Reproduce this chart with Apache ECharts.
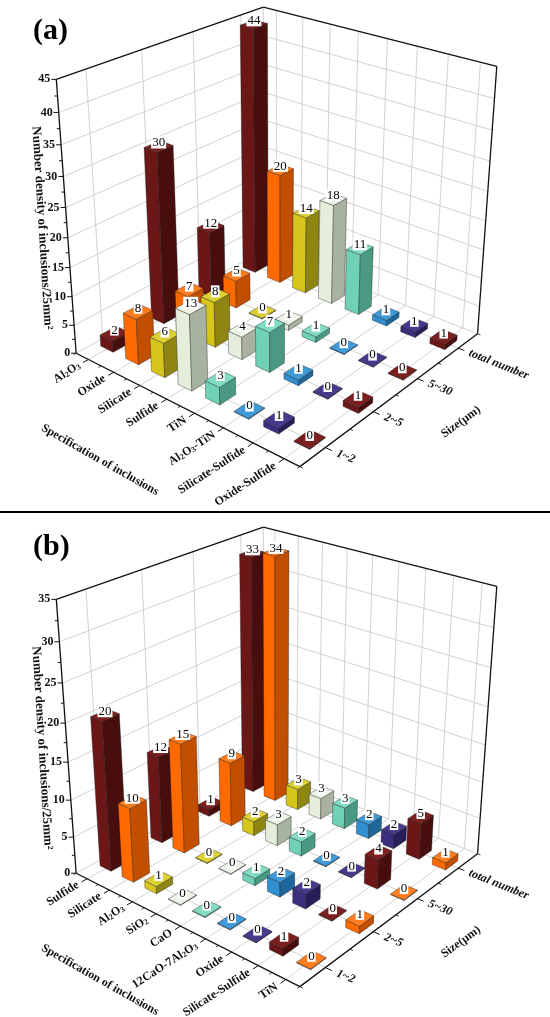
<!DOCTYPE html>
<html>
<head>
<meta charset="utf-8">
<script src="https://cdn.jsdelivr.net/npm/echarts@6/dist/echarts.min.js"></script>
<style>
  html, body { margin: 0; padding: 0; background: #fff; }
  #chart { width: 550px; height: 1017px; }
</style>
</head>
<body>
<div id="chart"></div>
<script>
// ---- data: panel (a)
const specA = ['Al2O3', 'Oxide', 'Silicate', 'Sulfide', 'TiN', 'Al2O3-TiN', 'Silicate-Sulfide', 'Oxide-Sulfide'];
const a_1_2   = [2, 8, 6, 13, 3, 0, 1, 0];
const a_2_5   = [30, 7, 8, 4, 7, 1, 0, 1];
const a_5_30  = [12, 5, 0, 1, 1, 0, 0, 0];
const a_total = [44, 20, 14, 18, 11, 1, 1, 1];
const ticksA  = [0, 5, 10, 15, 20, 25, 30, 35, 40, 45];

// ---- data: panel (b)
const specB = ['Sulfide', 'Silicate', 'Al2O3', 'SiO2', 'CaO', '12CaO-7Al2O3', 'Oxide', 'Silicate-Sulfide', 'TiN'];
const b_1_2   = [20, 10, 1, 0, 0, 0, 0, 1, 0];
const b_2_5   = [12, 15, 0, 0, 1, 2, 2, 0, 1];
const b_5_30  = [1, 9, 2, 3, 2, 0, 0, 4, 0];
const b_total = [33, 34, 3, 3, 3, 2, 2, 5, 1];
const ticksB  = [0, 5, 10, 15, 20, 25, 30, 35];

const sizes = ['1~2', '2~5', '5~30', 'total number'];

// ---- colours (front face, side face, top face)
const darkred = ['#6c1717', '#480e0e', '#7b1f1f'];
const orange  = ['#ff6a00', '#c24f00', '#ff7d1e'];
const yellow  = ['#d6c61c', '#8f8512', '#ddd032'];
const pale    = ['#e4eedb', '#a8b2a0', '#eef5e8'];
const teal    = ['#6fd2b6', '#4a9a83', '#82dcc3'];
const blue    = ['#2f8fd0', '#1f679a', '#3f9bd8'];
const navy    = ['#3c2e7e', '#271d58', '#48398c'];
const paletteA = [darkred, orange, yellow, pale, teal, blue, navy, darkred];
const paletteB = [darkred, orange, yellow, pale, teal, blue, navy, darkred, orange];

// ---- 3d box layout: normalized box corners -> panel pixels (same for both panels)
const boxCorners = [
  [[0, 0, 0], [76, 352]], [[1, 0, 0], [300, 466]], [[1, 1, 0], [478, 334]],
  [[0, 0, 1], [56, 79]], [[0, 1, 1], [263, 7]], [[1, 1, 1], [499, 67]]
];
const edgeTickY  = [352, 326, 297, 268, 238, 207, 177, 146, 113, 79];   // front-left edge, 9 steps
const rightTopX  = [277, 303, 330, 358, 387, 416, 447, 480];             // right wall grid, 8 cols
const leftTopX   = [87, 142, 194];                                        // left wall grid
const BAR_W = 0.5, BAR_D = 0.31;
const FONT = '"Liberation Serif", "Times New Roman", serif';

function solveCamera() {
  const refs = boxCorners.slice();
  edgeTickY.forEach((y, k) => { if (k > 0 && k < 9) refs.push([[0, 0, k / 9], [76 - 20 * (352 - y) / 273, y]]); });
  rightTopX.forEach((x, i) => refs.push([[(i + 0.5) / 8, 1, 1], [x, 7 + (x - 263) * 60 / 236]]));
  leftTopX.forEach((x, j) => refs.push([[0, (j + 0.5) / 4, 1], [x, 79 - (x - 56) * 72 / 207]]));
  const A = [], b = [];
  refs.forEach(([[x, y, z], [u, v]]) => {
    u /= 100; v /= 100;
    A.push([x, y, z, 1, 0, 0, 0, 0, -u * x, -u * y, -u * z]); b.push(u);
    A.push([0, 0, 0, 0, x, y, z, 1, -v * x, -v * y, -v * z]); b.push(v);
  });
  const n = 11, M = [];
  for (let i = 0; i < n; i++) {
    const row = new Array(n + 1).fill(0);
    for (let k = 0; k < A.length; k++) {
      for (let j = 0; j < n; j++) row[j] += A[k][i] * A[k][j];
      row[n] += A[k][i] * b[k];
    }
    M.push(row);
  }
  for (let c = 0; c < n; c++) {
    let p = c;
    for (let r = c + 1; r < n; r++) if (Math.abs(M[r][c]) > Math.abs(M[p][c])) p = r;
    [M[c], M[p]] = [M[p], M[c]];
    for (let r = 0; r < n; r++) {
      if (r === c) continue;
      const f = M[r][c] / M[c][c];
      for (let k = c; k <= n; k++) M[r][k] -= f * M[c][k];
    }
  }
  return M.map((row, i) => row[n] / row[i]);
}
const cam = solveCamera();
function project(x, y, z) {
  const w = cam[8] * x + cam[9] * y + cam[10] * z + 1;
  return [(cam[0] * x + cam[1] * y + cam[2] * z + cam[3]) / w * 100,
          (cam[4] * x + cam[5] * y + cam[6] * z + cam[7]) / w * 100, w];
}

function richName(s) { return s.replace(/([A-Za-z])(\d+)/g, '$1{s|$2}'); }
const subRich = { s: { fontSize: 8, fontWeight: 'bold', fontFamily: FONT, verticalAlign: 'bottom', lineHeight: 9 } };

function frameItem(panel) {
  return function (params, api) {
    const n = panel.cats.length, zmax = panel.ticks[panel.ticks.length - 1];
    const P = (x, y, z) => { const p = project(x, y, z); return api.coord([p[0], p[1]]); };
    const out = [];
    const seg = (a, b, stroke, w) => out.push({ type: 'line', silent: true,
      shape: { x1: a[0], y1: a[1], x2: b[0], y2: b[1] }, style: { stroke, lineWidth: w } });
    const text = (p, txt, rot, st) => out.push({ type: 'text', x: p[0], y: p[1], rotation: rot, silent: true,
      style: Object.assign({ text: txt, fontFamily: FONT, fontWeight: 'bold', fontSize: 12, fill: '#111' }, st) });
    const grey = '#c6c6c6';

    // grid lines on walls and floor
    for (let i = 0; i < n; i++) {
      const x = (i + 0.5) / n;
      seg(P(x, 1, 0), P(x, 1, 1), grey, 0.8);
      seg(P(x, 0, 0), P(x, 1, 0), grey, 0.8);
    }
    for (let j = 0; j < 4; j++) {
      const y = (j + 0.5) / 4;
      seg(P(0, y, 0), P(0, y, 1), grey, 0.8);
      seg(P(0, y, 0), P(1, y, 0), grey, 0.8);
    }
    panel.ticks.forEach(t => {
      if (t === 0 || t === zmax) return;
      const z = t / zmax;
      seg(P(0, 0, z), P(0, 1, z), grey, 0.8);
      seg(P(0, 1, z), P(1, 1, z), grey, 0.8);
    });
    seg(P(0, 1, 0), P(0, 1, 1), grey, 0.8);
    seg(P(0, 0, 0), P(0, 1, 0), grey, 0.8);
    seg(P(0, 1, 0), P(1, 1, 0), grey, 0.8);

    // black frame
    const k = '#111';
    seg(P(0, 0, 0), P(0, 0, 1), k, 1.3);
    seg(P(0, 0, 1), P(0, 1, 1), k, 1.3);
    seg(P(0, 1, 1), P(1, 1, 1), k, 1.3);
    seg(P(1, 1, 1), P(1, 1, 0), k, 1.3);
    seg(P(0, 0, 0), P(1, 0, 0), k, 1.3);
    seg(P(1, 0, 0), P(1, 1, 0), k, 1.3);

    // value axis ticks + labels
    panel.ticks.forEach((t, idx) => {
      const p = P(0, 0, t / zmax);
      seg(p, [p[0] - 5, p[1]], k, 1);
      if (idx < panel.ticks.length - 1) {
        const m = P(0, 0, (t + (panel.ticks[1] - panel.ticks[0]) / 2) / zmax);
        seg(m, [m[0] - 3, m[1]], k, 1);
      }
      text([p[0] - 6, p[1]], String(t), 0, { align: 'right', verticalAlign: 'middle' });
    });

    // category axis
    for (let i = 0; i <= n; i++) {
      const x = i / n;
      seg(P(x, 0, 0), P(x, -0.012, 0), k, 0.8);
    }
    panel.cats.forEach((c, i) => {
      const x = (i + 0.5) / n;
      seg(P(x, 0, 0), P(x, -0.025, 0), k, 1);
      text(P(x, -0.042, 0), richName(c), 33 * Math.PI / 180,
        { align: 'right', verticalAlign: 'middle', rich: subRich });
    });

    // size axis
    for (let j = 0; j <= 4; j++) seg(P(1, j / 4, 0), P(1.012, j / 4, 0), k, 0.8);
    sizes.forEach((s, j) => {
      const y = (j + 0.5) / 4;
      seg(P(1, y, 0), P(1.025, y, 0), k, 1);
      text(P(1.045, y, 0), s, -22 * Math.PI / 180,
        { align: 'left', verticalAlign: 'middle', fontStyle: 'italic' });
    });

    // axis titles
    text(api.coord([42, 228]), 'Number density of inclusions/25mm²', -86.5 * Math.PI / 180,
      { align: 'center', verticalAlign: 'middle', fontSize: 13 });
    text(api.coord([100, 460]), 'Specification of inclusions', -29.5 * Math.PI / 180,
      { align: 'center', verticalAlign: 'middle', fontSize: 12 });
    text(api.coord([461, 422]), 'Size(μm)', 36 * Math.PI / 180,
      { align: 'center', verticalAlign: 'middle', fontSize: 12 });

    return { type: 'group', children: out };
  };
}

function barItem(panel) {
  return function (params, api) {
    const i = api.value(0), j = api.value(1), v = api.value(2);
    const n = panel.cats.length, zmax = panel.ticks[panel.ticks.length - 1];
    const P = (x, y, z) => { const p = project(x, y, z); return api.coord([p[0], p[1]]); };
    const cx = (i + 0.5) / n, cy = (j + 0.5) / 4;
    const hx = BAR_W / 2 / n, hy = BAR_D / 2 / 4;
    const zt = Math.max(v / zmax, 0.003);
    const x0 = cx - hx, x1 = cx + hx, y0 = cy - hy, y1 = cy + hy;
    const col = panel.palette[i];
    const poly = (pts, fill) => ({ type: 'polygon', silent: true, shape: { points: pts },
      style: { fill, stroke: 'rgba(25,25,25,0.75)', lineWidth: 0.5, lineJoin: 'round' } });
    const children = [
      poly([P(x0, y0, 0), P(x1, y0, 0), P(x1, y0, zt), P(x0, y0, zt)], col[0]),
      poly([P(x1, y0, 0), P(x1, y1, 0), P(x1, y1, zt), P(x1, y0, zt)], col[1]),
      poly([P(x0, y0, zt), P(x1, y0, zt), P(x1, y1, zt), P(x0, y1, zt)], col[2])
    ];
    const tc = P(cx, cy, zt);
    children.push({ type: 'text', x: tc[0], y: tc[1] + 2, silent: true,
      style: { text: String(v), fontFamily: FONT, fontSize: 13, fill: '#000',
        align: 'center', verticalAlign: 'bottom', backgroundColor: '#fff',
        padding: [1, 1, 0, 1], lineHeight: 11 } });
    return { type: 'group', children };
  };
}

function barData(panel) {
  const items = [];
  panel.rows.forEach((row, j) => row.forEach((v, i) => items.push([i, j, v])));
  const n = panel.cats.length;
  items.sort((a, b) => project((b[0] + 0.5) / n, (b[1] + 0.5) / 4, 0)[2] - project((a[0] + 0.5) / n, (a[1] + 0.5) / 4, 0)[2]);
  return items;
}

const panelA = { cats: specA, rows: [a_1_2, a_2_5, a_5_30, a_total], ticks: ticksA, palette: paletteA };
const panelB = { cats: specB, rows: [b_1_2, b_2_5, b_5_30, b_total], ticks: ticksB, palette: paletteB };

const chart = echarts.init(document.getElementById('chart'));
chart.setOption({
  animation: false,
  grid: [
    { left: 0, top: 0, width: 550, height: 510 },
    { left: 0, top: 520, width: 550, height: 497 }
  ],
  xAxis: [
    { type: 'value', min: 0, max: 550, show: false, gridIndex: 0 },
    { type: 'value', min: 0, max: 550, show: false, gridIndex: 1 }
  ],
  yAxis: [
    { type: 'value', min: 0, max: 510, inverse: true, show: false, gridIndex: 0 },
    { type: 'value', min: 0, max: 497, inverse: true, show: false, gridIndex: 1 }
  ],
  graphic: [
    { type: 'text', left: 33, top: 16, style: { text: '(a)', font: 'bold 30px ' + FONT, fill: '#000' } },
    { type: 'text', left: 33, top: 532, style: { text: '(b)', font: 'bold 30px ' + FONT, fill: '#000' } },
    { type: 'rect', left: 0, top: 511, shape: { width: 550, height: 2 }, style: { fill: '#000' } }
  ],
  series: [
    { type: 'custom', xAxisIndex: 0, yAxisIndex: 0, clip: false, data: [[0, 0]], renderItem: frameItem(panelA) },
    { type: 'custom', xAxisIndex: 0, yAxisIndex: 0, clip: false, data: barData(panelA), renderItem: barItem(panelA) },
    { type: 'custom', xAxisIndex: 1, yAxisIndex: 1, clip: false, data: [[0, 0]], renderItem: frameItem(panelB) },
    { type: 'custom', xAxisIndex: 1, yAxisIndex: 1, clip: false, data: barData(panelB), renderItem: barItem(panelB) }
  ]
});
</script>
</body>
</html>
